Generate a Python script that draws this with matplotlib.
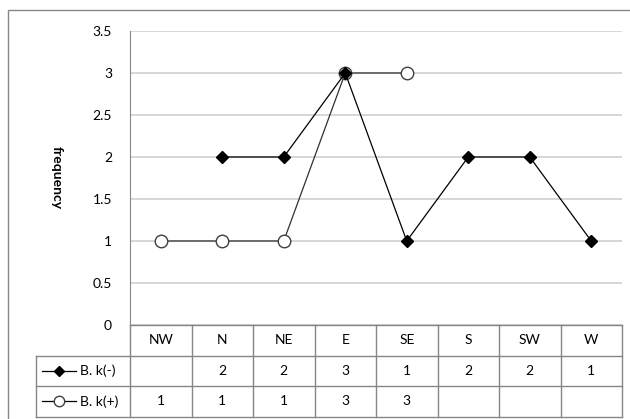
import numpy as np
import matplotlib
matplotlib.use('Agg')
import matplotlib.pyplot as plt
from matplotlib.patches import Rectangle

# data
directions = ['NW', 'N', 'NE', 'E', 'SE', 'S', 'SW', 'W']
bk_minus = [np.nan, 2, 2, 3, 1, 2, 2, 1]
bk_plus = [1, 1, 1, 3, 3, np.nan, np.nan, np.nan]
series_names = ['B. k(-)', 'B. k(+)']
y_ticks = [0, 0.5, 1, 1.5, 2, 2.5, 3, 3.5]

plt.rcParams['font.family'] = ['Lato', 'DejaVu Sans']

W, H = 630, 419
fig = plt.figure(figsize=(W / 100, H / 100), dpi=100)

# plot area in pixels
left, top, right, bottom = 130, 31, 622, 325
ax = fig.add_axes([left / W, 1 - bottom / H, (right - left) / W, (bottom - top) / H])

# outer chart border (cut off at right and bottom)
fig.patches.append(Rectangle((8 / W, -0.1), 1.2, 1.1 - 10 / H, transform=fig.transFigure,
                             fill=False, edgecolor='#868686', linewidth=1.0))

x = np.arange(len(directions))
ax.plot(x, bk_plus, color='#303030', linewidth=0.9, marker='o', markersize=9,
        markerfacecolor='white', markeredgecolor='#404040', markeredgewidth=1.0, zorder=3)
ax.plot(x, bk_minus, color='black', linewidth=0.9, marker='D', markersize=6.5,
        markerfacecolor='black', markeredgecolor='black', zorder=4)

ax.set_xlim(-0.5, len(directions) - 0.5)
ax.set_ylim(0, 3.5)
ax.set_yticks(y_ticks)
ax.set_yticklabels(['0', '0.5', '1', '1.5', '2', '2.5', '3', '3.5'], fontsize=10)
ax.tick_params(axis='y', length=0, pad=13)
ax.set_xticks([])
ax.yaxis.grid(True, color='#cfcfcf', linewidth=1.2)
ax.set_axisbelow(True)
for s in ['top', 'right', 'bottom']:
    ax.spines[s].set_visible(False)
ax.spines['left'].set_color('#868686')

ax.set_ylabel('frequency', rotation=270, fontsize=10, fontweight='bold', va='center')
ax.yaxis.set_label_coords((57 - left) / (right - left), 0.5)

# data table under the plot, drawn in axes coordinates
aw = right - left
ah = bottom - top
row_h = 30.5 / ah
label_x = (36 - left) / aw
n = len(directions)
grid_kw = dict(color='#868686', linewidth=1.0, transform=ax.transAxes, clip_on=False)

# horizontal rules
ax.plot([0, 1], [0, 0], **grid_kw)
for r in range(1, 4):
    ax.plot([label_x, 1], [-r * row_h, -r * row_h], **grid_kw)
# vertical rules
ax.plot([label_x, label_x], [-row_h, -3 * row_h], **grid_kw)
for j in range(n + 1):
    ax.plot([j / n, j / n], [0, -3 * row_h], **grid_kw)

for j, d in enumerate(directions):
    ax.text((j + 0.5) / n, -0.5 * row_h, d, fontsize=10, ha='center', va='center',
            transform=ax.transAxes)
for i, vals in enumerate([bk_minus, bk_plus]):
    yc = -(i + 1.5) * row_h
    for j, v in enumerate(vals):
        if not np.isnan(v):
            ax.text((j + 0.5) / n, yc, '%d' % v, fontsize=10, ha='center', va='center',
                    transform=ax.transAxes)

# legend keys in the row label cells
key_x0 = (42 - left) / aw
key_x1 = (76 - left) / aw
key_xm = (59 - left) / aw
for i, name in enumerate(series_names):
    yc = -(i + 1.5) * row_h
    ax.plot([key_x0, key_x1], [yc, yc], color='black', linewidth=0.9,
            transform=ax.transAxes, clip_on=False)
    if i == 0:
        ax.plot([key_xm], [yc], marker='D', markersize=5, color='black',
                transform=ax.transAxes, clip_on=False)
    else:
        ax.plot([key_xm], [yc], marker='o', markersize=7.5, markerfacecolor='white',
                markeredgecolor='#404040', transform=ax.transAxes, clip_on=False)
    ax.text((80 - left) / aw, yc, name, fontsize=10, va='center', ha='left',
            transform=ax.transAxes)

fig.savefig('out.png', dpi=100)
